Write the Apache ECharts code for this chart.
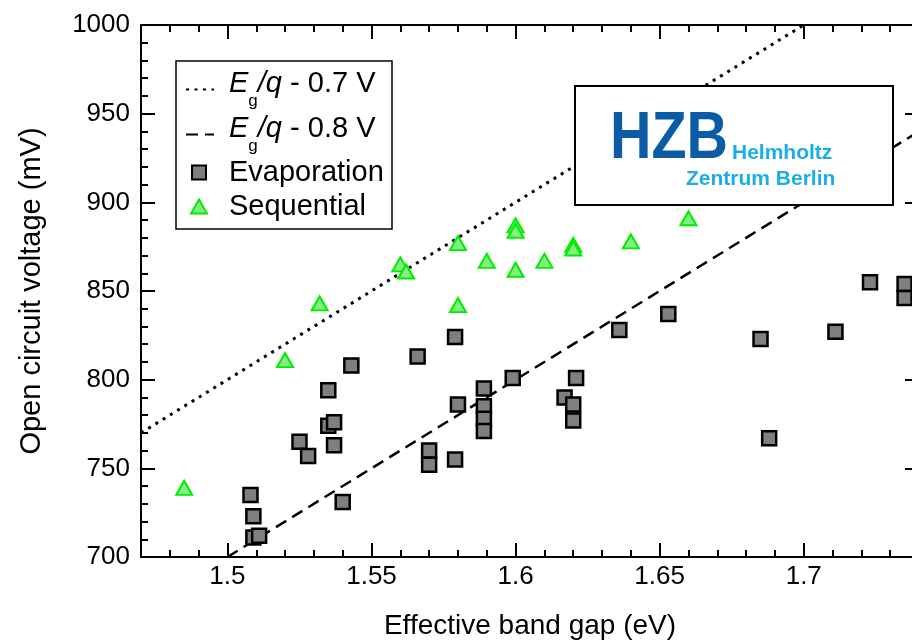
<!DOCTYPE html>
<html>
<head>
<meta charset="utf-8">
<title>Open circuit voltage vs band gap</title>
<script src="https://cdn.jsdelivr.net/npm/echarts@6/dist/echarts.min.js"></script>
<style>
html,body{margin:0;padding:0;background:#fff;}
#wrap{width:912px;height:643px;}
</style>
</head>
<body>
<div id="wrap"></div>
<script>
// evaporation samples (squares)
var evapGap = [1.508, 1.509, 1.509, 1.511, 1.525, 1.528, 1.535, 1.535, 1.537, 1.537,
    1.540, 1.543, 1.566, 1.570, 1.570, 1.579, 1.579, 1.580, 1.589, 1.589,
    1.589, 1.589, 1.599, 1.617, 1.620, 1.620, 1.621, 1.636, 1.653, 1.685,
    1.688, 1.711, 1.723, 1.735, 1.735];
var evapVoc = [735, 723, 711, 712, 765, 757, 794, 774, 776, 763,
    731, 808, 813, 760, 752, 824, 755, 786, 795, 785,
    778, 771, 801, 790, 786, 777, 801, 828, 837, 823,
    767, 827, 855, 854, 846];
// sequential samples (triangles)
var seqGap = [1.485, 1.520, 1.532, 1.560, 1.562, 1.580, 1.580, 1.590, 1.600, 1.600,
    1.600, 1.610, 1.620, 1.620, 1.640, 1.660];
var seqVoc = [739, 811, 843, 865, 861, 877, 842, 867, 887, 884,
    862, 867, 876, 874, 878, 891];
// reference lines Eg/q - 0.7 V and Eg/q - 0.8 V (end points)
var line07Gap = [1.47, 1.70];
var line07Voc = [770, 1000];
var line08Gap = [1.50, 1.74];
var line08Voc = [700, 940];

var FONT = 'Liberation Sans';

function pairs(xs, ys) {
    var out = [];
    xs.forEach(function(x, i) {
        out.push([x, ys[i]]);
    });
    return out;
}

var names = {
    Eg07: '{i0|E}{s|g}{i|/q}{n| - 0.7 V}',
    Eg08: '{i0|E}{s|g}{i|/q}{n| - 0.8 V}',
    Evaporation: '{p|Evaporation}',
    Sequential: '{p|Sequential}'
};
var rich = {
    i0: {fontFamily: FONT, fontSize: 29, fontStyle: 'italic', color: '#000', padding: [0, 0, 12, 10]},
    i: {fontFamily: FONT, fontSize: 29, fontStyle: 'italic', color: '#000', padding: [0, 0, 12, 0]},
    s: {fontFamily: FONT, fontSize: 17, color: '#000', padding: [24, 0, 0, 0]},
    n: {fontFamily: FONT, fontSize: 29, color: '#000', padding: [0, 0, 12, 0]},
    p: {fontFamily: FONT, fontSize: 29, color: '#000'}
};

function legendFor(name, left, top, w, h, pad, isLine) {
    var lg = {
        data: [name],
        left: left,
        top: top,
        padding: 0,
        itemWidth: w,
        itemHeight: h,
        selectedMode: false,
        formatter: function(n) { return names[n]; },
        textStyle: {rich: rich, padding: [0, 0, 0, pad]}
    };
    if (isLine) {
        lg.itemStyle = {opacity: 0};
    }
    return lg;
}

var tickStyle = {color: '#000', width: 2};

var myChart = echarts.init(document.getElementById('wrap'), null, {renderer: 'canvas'});
var option = {
    animation: false,
    backgroundColor: '#fff',
    grid: {left: 141, right: -7, top: 25, bottom: 86, outerBoundsMode: 'none'},
    legend: [
        legendFor('Eg07', 185, 69, 28, 14, 0, true),
        legendFor('Eg08', 185, 114, 28, 14, 0, true),
        legendFor('Evaporation', 191, 158, 14, 14, 18, false),
        legendFor('Sequential', 190, 192, 16, 14, 17, false)
    ],
    xAxis: [{
        type: 'value',
        min: 1.47,
        max: 1.74,
        splitNumber: 5,
        position: 'bottom',
        axisLine: {lineStyle: tickStyle},
        axisTick: {inside: true, length: 14, lineStyle: tickStyle},
        minorTick: {show: true, splitNumber: 5, length: 7, lineStyle: tickStyle},
        splitLine: {show: false},
        axisLabel: {showMinLabel: false, showMaxLabel: false, fontFamily: FONT, fontSize: 26, color: '#000', margin: 7},
        name: 'Effective band gap (eV)',
        nameLocation: 'middle',
        nameGap: 55,
        nameTextStyle: {fontFamily: FONT, fontSize: 28, color: '#000'}
    }, {
        type: 'value',
        min: 1.47,
        max: 1.74,
        splitNumber: 5,
        position: 'top',
        axisLine: {lineStyle: tickStyle},
        axisTick: {inside: true, length: 14, lineStyle: tickStyle},
        minorTick: {show: true, splitNumber: 5, length: 7, lineStyle: tickStyle},
        splitLine: {show: false},
        axisLabel: {show: false}
    }],
    yAxis: [{
        type: 'value',
        min: 700,
        max: 1000,
        interval: 50,
        position: 'left',
        axisLine: {show: true, lineStyle: tickStyle},
        axisTick: {show: true, inside: true, length: 14, lineStyle: tickStyle},
        minorTick: {show: true, splitNumber: 5, length: 7, lineStyle: tickStyle},
        splitLine: {show: false},
        axisLabel: {
            fontFamily: FONT, fontSize: 26, color: '#000', margin: 11,
            formatter: function(v) { return String(v); }
        },
        name: 'Open circuit voltage (mV)',
        nameLocation: 'middle',
        nameGap: 95,
        nameTextStyle: {fontFamily: FONT, fontSize: 29, color: '#000'}
    }, {
        type: 'value',
        min: 700,
        max: 1000,
        interval: 50,
        position: 'right',
        axisLine: {show: true, lineStyle: tickStyle},
        axisTick: {show: true, inside: true, length: 14, lineStyle: tickStyle},
        minorTick: {show: true, splitNumber: 5, length: 7, lineStyle: tickStyle},
        splitLine: {show: false},
        axisLabel: {show: false}
    }],
    series: [{
        name: 'Eg07',
        type: 'line',
        symbol: 'none',
        data: pairs(line07Gap, line07Voc),
        itemStyle: {color: 'rgba(0,0,0,0)'},
        lineStyle: {color: '#000', width: 3, type: [3, 5.5]},
        z: 1
    }, {
        name: 'Eg08',
        type: 'line',
        symbol: 'none',
        data: pairs(line08Gap, line08Voc),
        itemStyle: {color: 'rgba(0,0,0,0)'},
        lineStyle: {color: '#000', width: 2.5, type: [12, 7]},
        z: 1
    }, {
        name: 'Evaporation',
        type: 'scatter',
        symbol: 'rect',
        symbolSize: 14,
        data: pairs(evapGap, evapVoc),
        itemStyle: {color: '#7f7f7f', borderColor: '#000', borderWidth: 2.5, opacity: 1}
    }, {
        name: 'Sequential',
        type: 'scatter',
        symbol: 'triangle',
        symbolSize: [16, 14],
        data: pairs(seqGap, seqVoc),
        itemStyle: {color: '#86ec86', borderColor: '#00ee00', borderWidth: 2, opacity: 1}
    }],
    graphic: [{
        type: 'rect',
        z: 5,
        shape: {x: 176, y: 61, width: 216, height: 168},
        style: {fill: 'none', stroke: '#000', lineWidth: 1.5}
    }, {
        type: 'rect',
        z: 10,
        shape: {x: 575, y: 86, width: 318, height: 119},
        style: {fill: '#fff', stroke: '#000', lineWidth: 2}
    }, {
        type: 'text',
        z: 11,
        x: 610,
        y: 107,
        scaleX: 0.87,
        style: {text: 'HZB', font: 'bold 66px "Liberation Sans"', fill: '#0b5ba5', textVerticalAlign: 'top'}
    }, {
        type: 'text',
        z: 11,
        x: 732,
        y: 143,
        style: {text: 'Helmholtz', font: 'bold 21px "Liberation Sans"', fill: '#1aaee6', textVerticalAlign: 'top'}
    }, {
        type: 'text',
        z: 11,
        x: 686,
        y: 169,
        style: {text: 'Zentrum Berlin', font: 'bold 21px "Liberation Sans"', fill: '#1aaee6', textVerticalAlign: 'top'}
    }]
};
myChart.setOption(option);
</script>
</body>
</html>
